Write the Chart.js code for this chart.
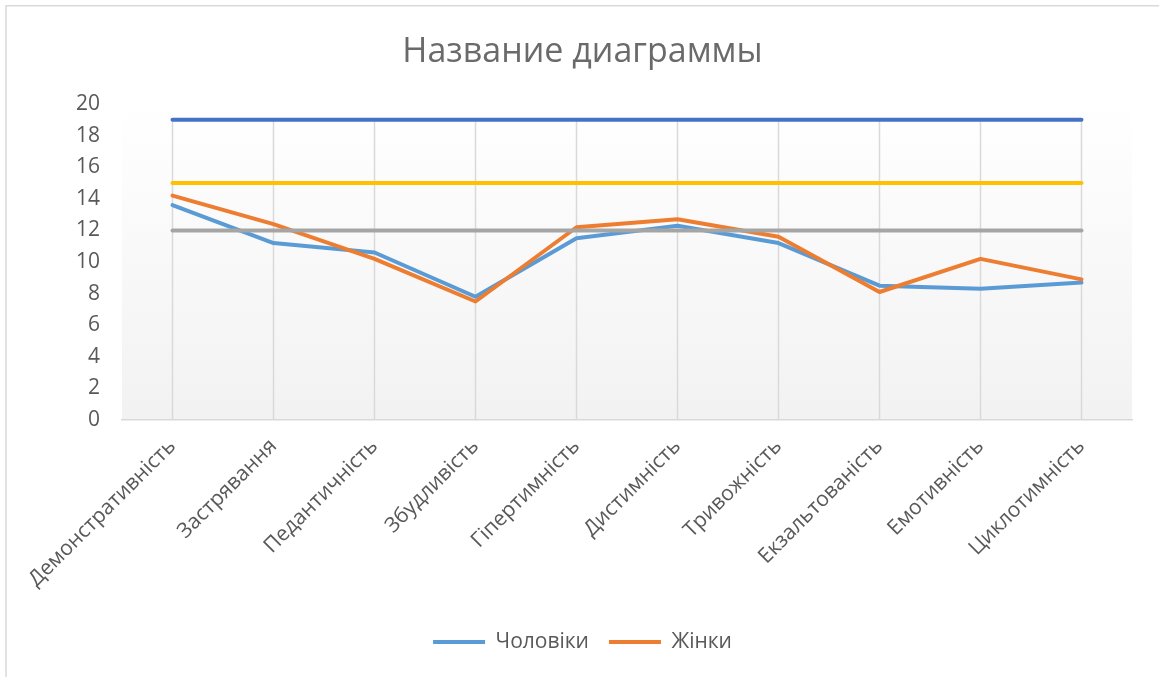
<!DOCTYPE html>
<html>
<head>
<meta charset="utf-8">
<script src="https://cdn.jsdelivr.net/npm/chart.js@4/dist/chart.umd.min.js"></script>
<style>
  html, body { margin: 0; padding: 0; background: #ffffff; }
  #wrap { position: relative; width: 1159px; height: 677px; }
</style>
</head>
<body>
<div id="wrap"><canvas id="c" width="1159" height="677"></canvas></div>
<script>
const categories = ["Демонстративність", "Застрявання", "Педантичність", "Збудливість", "Гіпертимність", "Дистимність", "Тривожність", "Екзальтованість", "Емотивність", "Циклотимність"];
const men = [13.6, 11.2, 10.6, 7.8, 11.5, 12.3, 11.2, 8.5, 8.3, 8.7];
const women = [14.2, 12.4, 10.2, 7.5, 12.2, 12.7, 11.6, 8.1, 10.2, 8.9];
const level19 = [19, 19, 19, 19, 19, 19, 19, 19, 19, 19];
const level15 = [15, 15, 15, 15, 15, 15, 15, 15, 15, 15];
const level12 = [12, 12, 12, 12, 12, 12, 12, 12, 12, 12];
const seriesNames = ["Чоловіки", "Жінки", "Ряд3", "Ряд4", "Ряд5"];
const yTicks = [0, 2, 4, 6, 8, 10, 12, 14, 16, 18, 20];

const FONT = "'Open Sans', 'Noto Sans', sans-serif";
const TXT = "#595959";

const bgPlugin = {
  id: 'bgPlugin',
  beforeDraw(chart) {
    const {ctx, chartArea: a} = chart;
    ctx.save();
    const g = ctx.createLinearGradient(0, a.top, 0, a.bottom);
    g.addColorStop(0, '#ffffff');
    g.addColorStop(1, '#f2f2f2');
    ctx.fillStyle = g;
    ctx.fillRect(a.left, a.top, a.right - a.left, a.bottom - a.top);
    ctx.restore();
  },
  beforeDatasetsDraw(chart) {
    const {ctx, scales: {x, y}} = chart;
    ctx.save();
    ctx.strokeStyle = '#d9d9d9';
    ctx.lineWidth = 1.5;
    const yTop = y.getPixelForValue(level19[0]);
    const yBot = y.getPixelForValue(0);
    x.ticks.forEach((t, i) => {
      const px = x.getPixelForTick(i);
      ctx.beginPath();
      ctx.moveTo(px, yTop);
      ctx.lineTo(px, yBot);
      ctx.stroke();
    });
    ctx.restore();
  },
  afterDraw(chart) {
    const {ctx} = chart;
    ctx.save();
    ctx.strokeStyle = '#d9d9d9';
    ctx.lineWidth = 1.5;
    ctx.beginPath();
    ctx.moveTo(6, 677);
    ctx.lineTo(6, 5.75);
    ctx.lineTo(1159, 5.75);
    ctx.stroke();
    ctx.restore();
  }
};

const mk = (label, data, color, order) => ({
  label, data, borderColor: color, backgroundColor: color,
  borderWidth: 4, pointRadius: 0, pointHoverRadius: 0, tension: 0,
  borderCapStyle: 'round', borderJoinStyle: 'round', fill: false, order
});

new Chart(document.getElementById('c'), {
  type: 'line',
  data: {
    labels: categories,
    datasets: [
      mk(seriesNames[0], men, '#5B9BD5', 5),
      mk(seriesNames[1], women, '#ED7D31', 4),
      mk(seriesNames[2], level19, '#4472C4', 3),
      mk(seriesNames[3], level15, '#FFC000', 2),
      mk(seriesNames[4], level12, '#A5A5A5', 1)
    ]
  },
  plugins: [bgPlugin],
  options: {
    responsive: false,
    animation: false,
    events: [],
    layout: { padding: { left: 6, right: 0, top: 0, bottom: 14.5 } },
    plugins: {
      title: {
        display: true,
        text: 'Название диаграммы',
        color: '#6a6a6a',
        font: { family: FONT, size: 34, weight: 'normal', lineHeight: 1.2 },
        padding: { top: 31.6, bottom: 31.6 }
      },
      legend: {
        display: true,
        position: 'bottom',
        labels: {
          color: TXT,
          font: { family: FONT, size: 21 },
          usePointStyle: true,
          pointStyle: 'line',
          pointStyleWidth: 52,
          padding: 20,
          filter: (item) => item.datasetIndex < 2,
          sort: (a, b) => a.datasetIndex - b.datasetIndex
        }
      },
      tooltip: { enabled: false }
    },
    scales: {
      x: {
        offset: true,
        grid: { display: false },
        border: { display: true, color: '#d9d9d9', width: 1.5 },
        ticks: {
          color: TXT,
          font: { family: FONT, size: 21 },
          minRotation: 45, maxRotation: 45,
          padding: 6,
          autoSkip: false
        },
        afterFit(s) { s.height = 191.5; }
      },
      y: {
        min: 0, max: 20,
        afterBuildTicks(s) { s.ticks = yTicks.map(v => ({ value: v })); },
        grid: { display: false },
        border: { display: false },
        ticks: {
          color: TXT,
          font: { family: FONT, size: 21 },
          padding: 14
        },
        afterFit(s) { s.width = 116; }
      },
      yRightSpace: {
        position: 'right',
        display: true,
        grid: { display: false, drawTicks: false },
        border: { display: false },
        ticks: { display: false },
        afterFit(s) { s.width = 27; }
      }
    }
  }
});
</script>
</body>
</html>
